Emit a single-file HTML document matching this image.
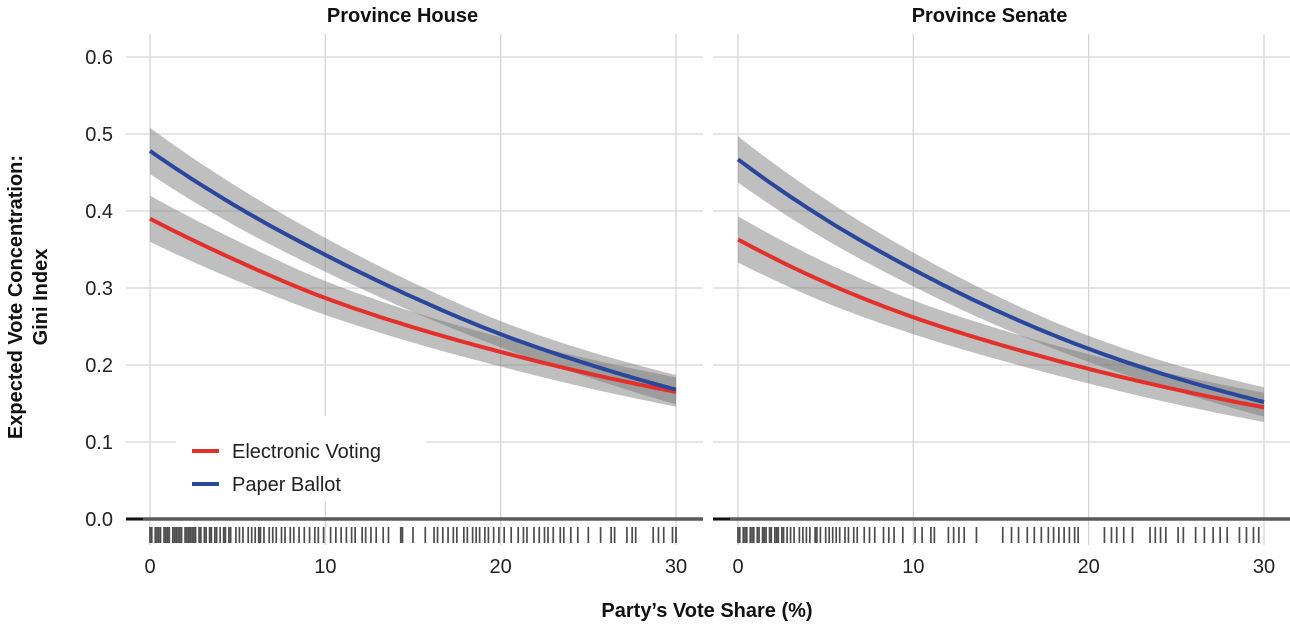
<!DOCTYPE html>
<html><head><meta charset="utf-8">
<style>
body{margin:0;background:#fff;}
svg{display:block;font-family:"Liberation Sans",Arial,sans-serif;}
</style></head>
<body>
<svg id="chart" width="1290" height="629" viewBox="0 0 1290 629"></svg>
<script>
const xs = [0,5,10,15,20,25,30];
const houseBlue = [0.478,0.405,0.343,0.288,0.240,0.201,0.168];
const houseRed = [0.39,0.335,0.287,0.249,0.217,0.189,0.165];
const senateBlue = [0.467,0.389,0.324,0.268,0.221,0.183,0.152];
const senateRed = [0.363,0.307,0.262,0.226,0.195,0.168,0.145];
const blueHalf = [0.03,0.026,0.022,0.019,0.017,0.017,0.019];
const redHalf = [0.03,0.026,0.022,0.02,0.019,0.019,0.019];
const yTicks = [0,0.1,0.2,0.3,0.4,0.5,0.6];
const yTickLabels = ["0.0","0.1","0.2","0.3","0.4","0.5","0.6"];
const xTicks = [0,10,20,30];
const panelTitles = ["Province House","Province Senate"];
const houseRug = [0,0.1,0.3,0.4,0.5,0.6,0.8,0.9,1,1.1,1.3,1.4,1.5,1.6,1.7,1.8,2,2.1,2.2,2.3,2.4,2.5,2.6,2.8,2.9,3.1,3.2,3.4,3.5,3.7,3.8,4,4.2,4.3,4.5,4.6,4.9,5.1,5.3,5.6,5.8,6,6.2,6.3,6.5,6.8,7,7.2,7.5,7.7,8,8.2,8.5,8.8,9.1,9.4,9.6,9.9,10.3,10.6,10.9,11.2,11.5,11.7,12.1,12.3,12.6,12.9,13.3,13.6,14.3,14.4,15,15.7,16.2,16.4,16.7,17,17.3,17.5,17.9,18.1,18.4,18.6,18.8,19.1,19.3,19.6,19.9,20.2,20.6,21,21.3,21.5,21.9,22.2,22.5,22.7,23,23.4,23.6,24,24.4,25,25.7,26.3,26.5,27.2,27.5,27.7,28.7,29,29.3,29.8,30];
const senateRug = [0,0.1,0.3,0.4,0.5,0.7,0.8,0.9,1.1,1.2,1.4,1.5,1.6,1.8,1.9,2.1,2.2,2.3,2.5,2.6,2.8,3,3.2,3.5,3.7,3.9,4.1,4.4,4.5,4.7,5,5.2,5.4,5.6,5.8,6.1,6.3,6.6,6.8,7.2,7.5,7.8,8.3,8.6,8.9,9.4,10.1,10.5,11,11.2,12,12.3,12.6,12.9,13.6,15.1,15.6,16,16.5,16.9,17.3,17.7,18,18.3,18.6,18.9,19.2,19.4,20.9,21.3,21.6,22,22.5,23.5,23.8,24.1,24.4,25.1,25.4,26.1,26.6,27.1,27.5,27.9,28.6,29,29.4,29.7];

const svg = document.getElementById('chart');
const NS = 'http://www.w3.org/2000/svg';
function mk(tag, attrs, parent){const e=document.createElementNS(NS,tag);for(const k in attrs)e.setAttribute(k,attrs[k]);(parent||svg).appendChild(e);return e;}
const yScale = v => 519 - v*770;
function interp(arr, x){
  const la = arr.map(v=>Math.log(v));
  const step = xs[1]-xs[0];
  let i = Math.min(Math.floor(x/step), xs.length-2);
  const t = (x - xs[i])/step;
  const p0=la[i-1]!==undefined?la[i-1]:2*la[i]-la[i+1];
  const p1=la[i],p2=la[i+1];
  const p3=la[i+2]!==undefined?la[i+2]:2*la[i+1]-la[i];
  return Math.exp(0.5*((2*p1)+(-p0+p2)*t+(2*p0-5*p1+4*p2-p3)*t*t+(-p0+3*p1-3*p2+p3)*t*t*t));
}
function bandArr(arr,half,sign){return arr.map((v,i)=>v+sign*half[i]);}

const panels = [
  {x0:126,x1:703,z:150,title:panelTitles[0],blue:houseBlue,red:houseRed,rug:houseRug,name:'house'},
  {x0:713,x1:1290,z:738,title:panelTitles[1],blue:senateBlue,red:senateRed,rug:senateRug,name:'senate'}
];
const pxPerUnit = (676-150)/30;

panels.forEach((p,pi)=>{
  const g = mk('g',{});
  
  
  const xScale = v => p.z + v*pxPerUnit;
  yTicks.forEach((t,i)=>{
    if(t===0) return;
    const l=mk('line',{x1:p.x0,x2:p.x1,y1:yScale(t),y2:yScale(t),stroke:'#d6d6d6','stroke-width':1.3},g);
    
    
  });
  xTicks.forEach(t=>{
    const l=mk('line',{x1:xScale(t),x2:xScale(t),y1:34,y2:545,stroke:'#d6d6d6','stroke-width':1.3},g);
    
    
    const tx=mk('text',{x:xScale(t),y:573,'text-anchor':'middle','font-size':20,fill:'#222'},g);
    tx.textContent=t;
    
    
  });
  const tt=mk('text',{x:(p.x0+p.x1)/2-12,y:22,'text-anchor':'middle','font-size':20,'font-weight':'bold',fill:'#111'},g);
  tt.textContent=p.title;
  
  
  [[p.red,redHalf],[p.blue,blueHalf]].forEach(([arr,half],bi)=>{
    const up=bandArr(arr,half,1), lo=bandArr(arr,half,-1);
    let d='';
    for(let x=0;x<=30.001;x+=0.25){d+=(d?'L':'M')+xScale(x).toFixed(1)+','+yScale(interp(up,x)).toFixed(1);}
    for(let x=30;x>=-0.001;x-=0.25){d+='L'+xScale(x).toFixed(1)+','+yScale(interp(lo,x)).toFixed(1);}
    const b=mk('path',{d:d+'Z',fill:'#7a7a7a','fill-opacity':0.48},g);
    
    
  });
  [[p.red,'#e3302b','electronic'],[p.blue,'#2a479b','paper']].forEach(([arr,col,nm])=>{
    let d='';
    for(let x=0;x<=30.001;x+=0.25){d+=(d?'L':'M')+xScale(x).toFixed(1)+','+yScale(interp(arr,x)).toFixed(1);}
    const l=mk('path',{d:d,fill:'none',stroke:col,'stroke-width':4},g);
    
    
  });
  const zl=mk('line',{x1:p.x0,x2:p.x1,y1:519,y2:519,stroke:'#5a5a5a','stroke-width':3.5},g);
  
  
  const zd=mk('line',{x1:p.x0,x2:p.x0+17,y1:519,y2:519,stroke:'#111','stroke-width':2},g);
  
  
  p.rug.forEach(v=>{
    const r=mk('line',{x1:xScale(v),x2:xScale(v),y1:527,y2:543,stroke:'#000','stroke-opacity':0.7,'stroke-width':1.7},g);
    
    
  });
});

yTicks.forEach((t,i)=>{
  const tx=mk('text',{x:113,y:yScale(t)+7,'text-anchor':'end','font-size':20,fill:'#222'});
  tx.textContent=yTickLabels[i];
  
  
});
const lg=mk('g',{});


mk('rect',{x:176,y:416,width:250,height:85,fill:'#fff'},lg);
[['#e3302b','Electronic Voting',451],['#2a479b','Paper Ballot',484]].forEach(([c,lab,y])=>{
  const e=mk('g',{},lg);
  
  
  mk('line',{x1:192,x2:219,y1:y,y2:y,stroke:c,'stroke-width':4},e);
  const t=mk('text',{x:232,y:y+7,'font-size':20,fill:'#222'},e);
  t.textContent=lab;
});
const yt=mk('text',{transform:'translate(22,297) rotate(-90)','text-anchor':'middle','font-size':20,'font-weight':'bold',fill:'#111'});


const t1=mk('tspan',{x:0,dy:0},yt);t1.textContent='Expected Vote Concentration:';
const t2=mk('tspan',{x:0,dy:25},yt);t2.textContent='Gini Index';
const xt=mk('text',{x:707,y:617,'text-anchor':'middle','font-size':20,'font-weight':'bold',fill:'#111'});
xt.textContent='Party\u2019s Vote Share (%)';


</script>
</body></html>
